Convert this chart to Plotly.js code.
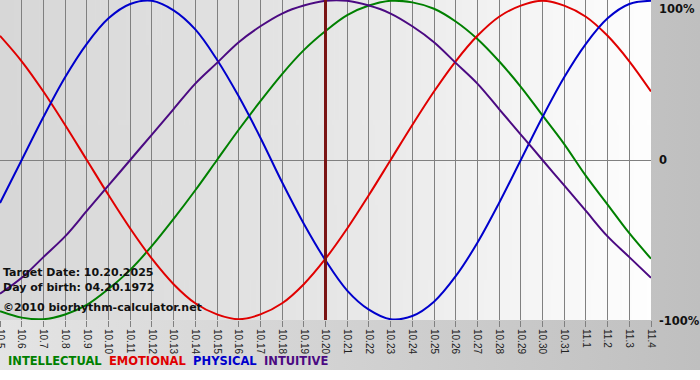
<!DOCTYPE html>
<html><head><meta charset="utf-8">
<script src="https://cdn.plot.ly/plotly-3.0.1.min.js"></script>
<style>
html,body{margin:0;padding:0;background:#fff;}
#wrap{width:700px;height:380px;background-color:#fff;background-image:linear-gradient(to right,#e4e4e4,#bfbfbf);background-size:100% 370px;background-repeat:no-repeat;}
#chart{width:700px;height:380px;}
</style></head><body>
<div id="wrap"><div id="chart"></div></div>
<script>
const days = ["10.5","10.6","10.7","10.8","10.9","10.10","10.11","10.12","10.13","10.14","10.15","10.16","10.17","10.18","10.19","10.20","10.21","10.22","10.23","10.24","10.25","10.26","10.27","10.28","10.29","10.30","10.31","11.1","11.2","11.3","11.4"];
const targetDay = "10.20";
const intellectual = [-0.95,-0.99,-1.00,-0.97,-0.91,-0.81,-0.69,-0.54,-0.37,-0.19,0.00,0.19,0.37,0.54,0.69,0.81,0.91,0.97,1.00,0.99,0.95,0.87,0.76,0.62,0.46,0.28,0.10,-0.10,-0.28,-0.46,-0.62];
const emotional = [0.78,0.62,0.43,0.22,0.00,-0.22,-0.43,-0.62,-0.78,-0.90,-0.97,-1.00,-0.97,-0.90,-0.78,-0.62,-0.43,-0.22,0.00,0.22,0.43,0.62,0.78,0.90,0.97,1.00,0.97,0.90,0.78,0.62,0.43];
const physical = [-0.27,0.00,0.27,0.52,0.73,0.89,0.98,1.00,0.94,0.82,0.63,0.40,0.14,-0.14,-0.40,-0.63,-0.82,-0.94,-1.00,-0.98,-0.89,-0.73,-0.52,-0.27,0.00,0.27,0.52,0.73,0.89,0.98,1.00];
const intuitive = [-0.84,-0.74,-0.61,-0.48,-0.32,-0.16,0.00,0.16,0.32,0.48,0.61,0.74,0.84,0.92,0.97,1.00,1.00,0.97,0.92,0.84,0.74,0.61,0.48,0.32,0.16,0.00,-0.16,-0.32,-0.48,-0.61,-0.74];
const seriesNames = ["INTELLECTUAL","EMOTIONAL","PHYSICAL","INTUITIVE"];
const seriesColors = ["#008000","#e00000","#0000cc","#4b0a82"];
const yLabels = ["100%","0","-100%"];
const infoLines = ["Target Date: 10.20.2025","Day of birth: 04.20.1972","©2010 biorhythm-calculator.net"];

// plot-area gradient background
const cv = document.createElement('canvas'); cv.width = 256; cv.height = 4;
const cx = cv.getContext('2d');
const g = cx.createLinearGradient(0,0,256,0);
g.addColorStop(0,'#d7d7d7'); g.addColorStop(0.5,'#e6e6e6'); g.addColorStop(1,'#fefefe');
cx.fillStyle = g; cx.fillRect(0,0,256,4);

const allSeries = [intellectual, emotional, physical, intuitive];
const traces = allSeries.map((ys,i)=>({
  type:'scatter', mode:'lines', x:days, y:ys, name:seriesNames[i],
  line:{color:seriesColors[i], width:2, shape:'spline', smoothing:1},
  hoverinfo:'skip'
}));

const F = "DejaVu Sans, Verdana, sans-serif";
const annotations = [];
annotations.push({xref:'paper',yref:'paper',x:1,y:1,xanchor:'left',yanchor:'top',xshift:6,yshift:0,showarrow:false,text:'<b>'+yLabels[0]+'</b>',font:{family:F,size:11.5,color:'#111'}});
annotations.push({xref:'paper',yref:'y',x:1,y:0,xanchor:'left',yanchor:'middle',xshift:6,showarrow:false,text:'<b>'+yLabels[1]+'</b>',font:{family:F,size:11.5,color:'#111'}});
annotations.push({xref:'paper',yref:'y',x:1,y:-1,xanchor:'left',yanchor:'middle',xshift:6,yshift:-2,showarrow:false,text:'<b>'+yLabels[2]+'</b>',font:{family:F,size:11.5,color:'#111'}});
const infoY = [272, 287, 307];
infoLines.forEach((t,i)=>annotations.push({xref:'paper',yref:'paper',x:0,y:1-infoY[i]/320,xanchor:'left',yanchor:'middle',xshift:1,showarrow:false,text:'<b>'+t+'</b>',font:{family:F,size:11,color:'#111'}}));
const legendText = seriesNames.map((n,i)=>'<span style="color:'+seriesColors[i]+'"><b>'+n+'</b></span>').join('&nbsp; ');
annotations.push({xref:'paper',yref:'paper',x:0,y:1-361/320,xanchor:'left',yanchor:'middle',xshift:6,showarrow:false,text:legendText,font:{family:F,size:11.5,color:'#111'}});

const targetIdx = days.indexOf(targetDay);
const layout = {
  width:700, height:380,
  margin:{l:0,r:49,t:0,b:60,pad:0},
  paper_bgcolor:'rgba(0,0,0,0)', plot_bgcolor:'rgba(0,0,0,0)',
  showlegend:false,
  xaxis:{type:'category', range:[0,30], showgrid:true, gridcolor:'#808080', gridwidth:1,
    ticks:'outside', ticklen:6, tickcolor:'#808080', tickangle:90,
    tickfont:{family:'Liberation Sans, Arial, sans-serif', size:10, color:'#222'},
    zeroline:false, showline:false, fixedrange:true},
  yaxis:{range:[-1.005,1.005], showgrid:false, zeroline:true, zerolinecolor:'#808080', zerolinewidth:1,
    showticklabels:false, ticks:'', showline:false, fixedrange:true},
  shapes:[{type:'line', xref:'x', yref:'paper', x0:targetIdx, x1:targetIdx, y0:0, y1:1, line:{color:'#7a1414', width:3}, layer:'above'}],
  images:[{source:cv.toDataURL(), xref:'paper', yref:'paper', x:0, y:1, sizex:1, sizey:1, sizing:'stretch', xanchor:'left', yanchor:'top', layer:'below'}],
  annotations:annotations
};
Plotly.newPlot('chart', traces, layout, {staticPlot:true, displayModeBar:false});
</script>
</body></html>
